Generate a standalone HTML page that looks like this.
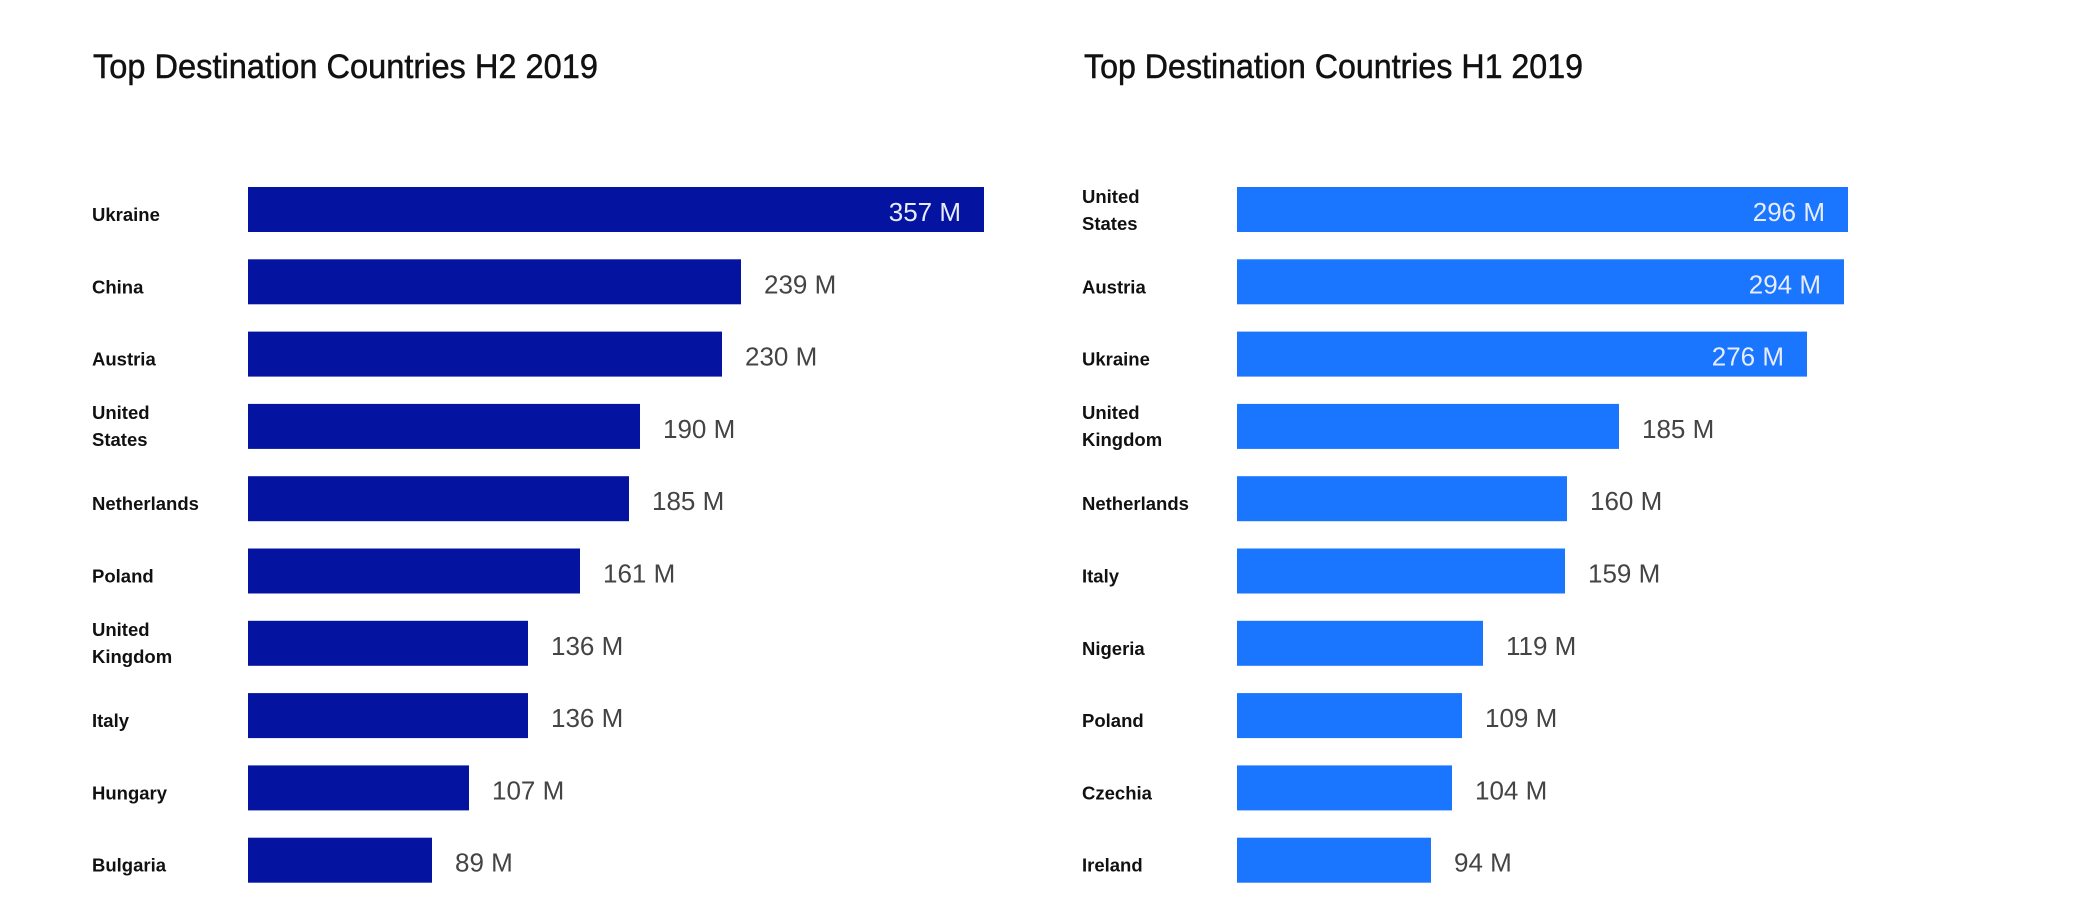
<!DOCTYPE html>
<html><head><meta charset="utf-8"><style>
html,body{margin:0;padding:0;background:#fff;}
svg{display:block;}
.t{font-family:"Liberation Sans",sans-serif;font-size:34px;fill:#111;stroke:#111;stroke-width:0.5px;}
.l{font-family:"Liberation Sans",sans-serif;font-size:18.5px;font-weight:bold;fill:#111;}
.v{font-family:"Liberation Sans",sans-serif;font-size:26px;fill:#444;}
.w{font-family:"Liberation Sans",sans-serif;font-size:26px;fill:#e8ecff;text-anchor:end;}
</style></head><body>
<svg width="2099" height="915" viewBox="0 0 2099 915" xmlns="http://www.w3.org/2000/svg">
<text class="t" x="93" y="78" textLength="505" lengthAdjust="spacingAndGlyphs">Top Destination Countries H2 2019</text>
<text class="t" x="1084" y="78" textLength="499" lengthAdjust="spacingAndGlyphs">Top Destination Countries H1 2019</text>

<g fill="#0414a0">
<rect x="248" y="187" width="736" height="45"/>
<rect x="248" y="259.3" width="493" height="45"/>
<rect x="248" y="331.6" width="474" height="45"/>
<rect x="248" y="403.9" width="392" height="45"/>
<rect x="248" y="476.2" width="381" height="45"/>
<rect x="248" y="548.5" width="332" height="45"/>
<rect x="248" y="620.8" width="280" height="45"/>
<rect x="248" y="693.1" width="280" height="45"/>
<rect x="248" y="765.4" width="221" height="45"/>
<rect x="248" y="837.7" width="184" height="45"/>
</g>
<text class="l" x="92" y="221">Ukraine</text>
<text class="l" x="92" y="293.3">China</text>
<text class="l" x="92" y="365.6">Austria</text>
<text class="l" x="92" y="419">United</text><text class="l" x="92" y="446">States</text>
<text class="l" x="92" y="510.2">Netherlands</text>
<text class="l" x="92" y="582.5">Poland</text>
<text class="l" x="92" y="636">United</text><text class="l" x="92" y="663">Kingdom</text>
<text class="l" x="92" y="727.1">Italy</text>
<text class="l" x="92" y="799.4">Hungary</text>
<text class="l" x="92" y="871.7">Bulgaria</text>

<text class="w" x="961" y="221">357 M</text>
<text class="v" x="764" y="293.3">239 M</text>
<text class="v" x="745" y="365.6">230 M</text>
<text class="v" x="663" y="437.9">190 M</text>
<text class="v" x="652" y="510.2">185 M</text>
<text class="v" x="603" y="582.5">161 M</text>
<text class="v" x="551" y="654.8">136 M</text>
<text class="v" x="551" y="727.1">136 M</text>
<text class="v" x="492" y="799.4">107 M</text>
<text class="v" x="455" y="871.7">89 M</text>

<g fill="#1a75ff">
<rect x="1237" y="187" width="611" height="45"/>
<rect x="1237" y="259.3" width="607" height="45"/>
<rect x="1237" y="331.6" width="570" height="45"/>
<rect x="1237" y="403.9" width="382" height="45"/>
<rect x="1237" y="476.2" width="330" height="45"/>
<rect x="1237" y="548.5" width="328" height="45"/>
<rect x="1237" y="620.8" width="246" height="45"/>
<rect x="1237" y="693.1" width="225" height="45"/>
<rect x="1237" y="765.4" width="215" height="45"/>
<rect x="1237" y="837.7" width="194" height="45"/>
</g>
<text class="l" x="1082" y="203">United</text><text class="l" x="1082" y="230">States</text>
<text class="l" x="1082" y="293.3">Austria</text>
<text class="l" x="1082" y="365.6">Ukraine</text>
<text class="l" x="1082" y="419">United</text><text class="l" x="1082" y="446">Kingdom</text>
<text class="l" x="1082" y="510.2">Netherlands</text>
<text class="l" x="1082" y="582.5">Italy</text>
<text class="l" x="1082" y="654.8">Nigeria</text>
<text class="l" x="1082" y="727.1">Poland</text>
<text class="l" x="1082" y="799.4">Czechia</text>
<text class="l" x="1082" y="871.7">Ireland</text>

<text class="w" x="1825" y="221">296 M</text>
<text class="w" x="1821" y="293.3">294 M</text>
<text class="w" x="1784" y="365.6">276 M</text>
<text class="v" x="1642" y="437.9">185 M</text>
<text class="v" x="1590" y="510.2">160 M</text>
<text class="v" x="1588" y="582.5">159 M</text>
<text class="v" x="1506" y="654.8">119 M</text>
<text class="v" x="1485" y="727.1">109 M</text>
<text class="v" x="1475" y="799.4">104 M</text>
<text class="v" x="1454" y="871.7">94 M</text>
</svg>
</body></html>
